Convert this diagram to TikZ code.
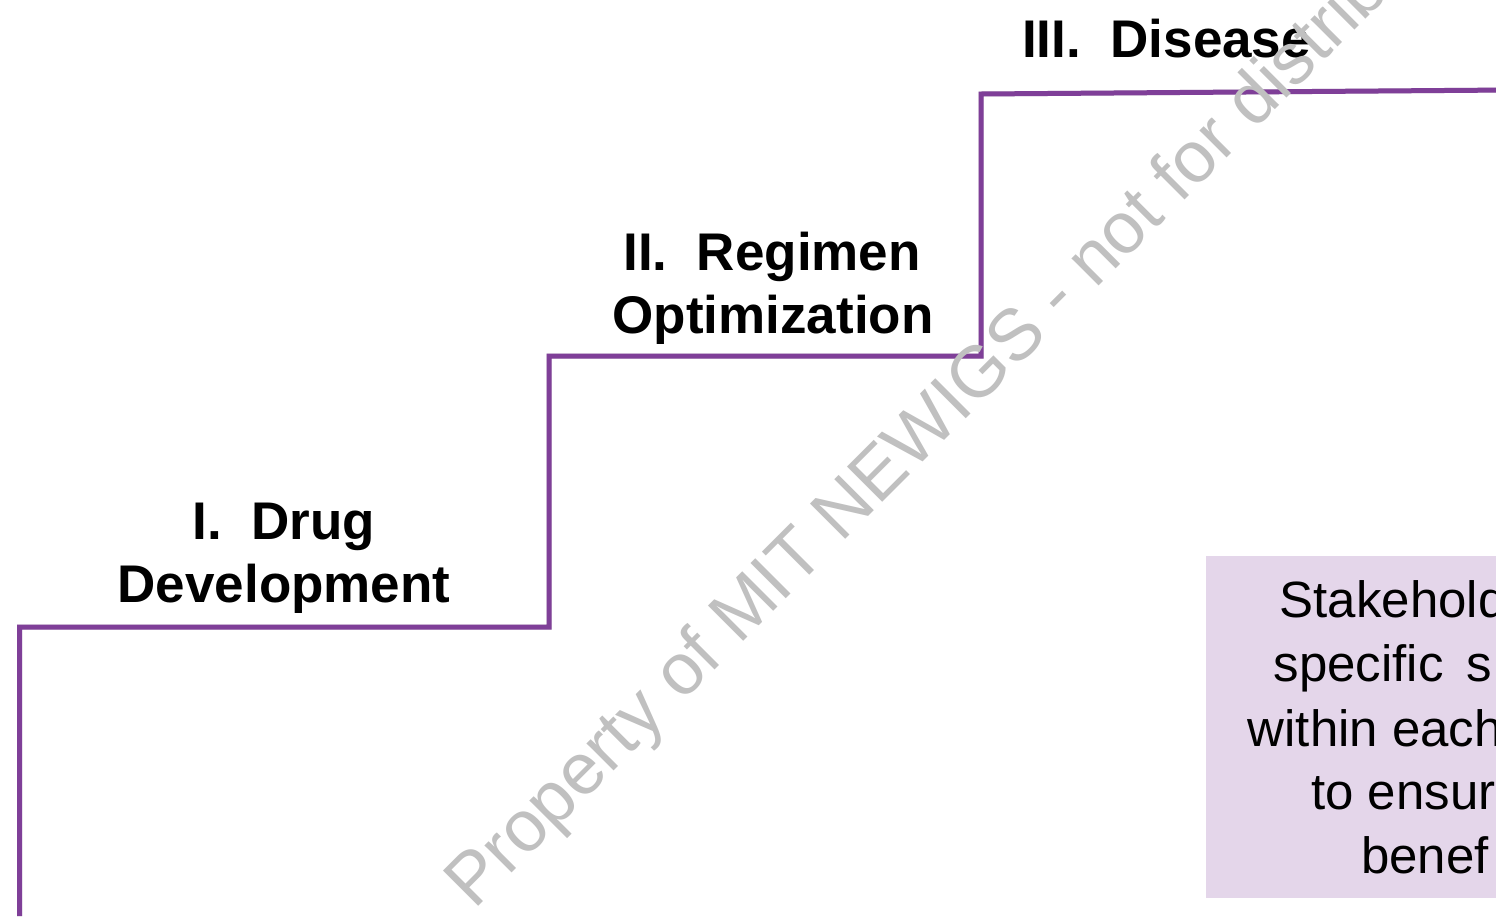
\documentclass[tikz,border=0pt]{standalone}
\usepackage{fontspec}
\setmainfont{Liberation Sans}
\definecolor{stair}{RGB}{127,63,152}
\definecolor{panel}{RGB}{228,214,234}
\definecolor{markgray}{RGB}{192,192,192}
\begin{document}
\begin{tikzpicture}[x=1pt,y=-1pt,
  steplabel/.style={font=\bfseries\fontsize{53}{63}\selectfont, anchor=base, inner sep=0pt},
  paneltext/.style={font=\fontsize{51}{64}\selectfont, anchor=base west, inner sep=0pt},
  stairline/.style={draw=stair, line width=5pt, line join=miter},
  stairshadow/.style={draw=black!14, line width=5pt, line join=miter},
  watermark/.style={font=\fontsize{72.5}{80}\selectfont, text=markgray, anchor=base west, inner sep=0pt, rotate=45}]
\useasboundingbox (0,0) rectangle (1496,919);
\clip (0,0) rectangle (1496,919);
\fill[white] (0,0) rectangle (1496,919);

% corner points of the staircase
\coordinate (s0) at (19.5,916);
\coordinate (s1) at (19.5,627);
\coordinate (s2) at (549,627);
\coordinate (s3) at (549,356);
\coordinate (s4) at (981,356);
\coordinate (s5) at (981,94);
\coordinate (s6) at (1510,90);

% soft shadow under the staircase
\begin{scope}[shift={(2,2.5)}]
  \draw[stairshadow] (s0) -- (s1) -- (s2) -- (s3) -- (s4) -- (s5) -- (s6);
\end{scope}
% the staircase
\draw[stairline] (s0) -- (s1) -- (s2) -- (s3) -- (s4) -- (s5) -- (s6);

% step labels
\node[steplabel] (drugA) at (284,539) {I.\hspace{0.556em}Drug};
\node[steplabel] (drugB) at (284,602) {Development};
\node[steplabel] (regA) at (772,270) {II.\hspace{0.556em}Regimen};
\node[steplabel] (regB) at (773,333) {Optimization};
\node[steplabel, anchor=base west] (disA) at (1022,57) {III.\hspace{0.556em}Disease};

% lavender panel
\fill[panel] (1206,556) rectangle (1510,898);
\node[paneltext] (pA) at (1279.5,617) {Stakehold};
\node[paneltext] (pB) at (1273.5,681) {specific\hspace{0.45em}s};
\node[paneltext] (pC) at (1247.5,746) {within each};
\node[paneltext] (pD) at (1311,809) {to ensur};
\node[paneltext] (pE) at (1361,873) {benef};

% diagonal ownership mark
\node[watermark] (wm) at (474,911) {Property of MIT NEWIGS - not for distribution};
\end{tikzpicture}
\end{document}
